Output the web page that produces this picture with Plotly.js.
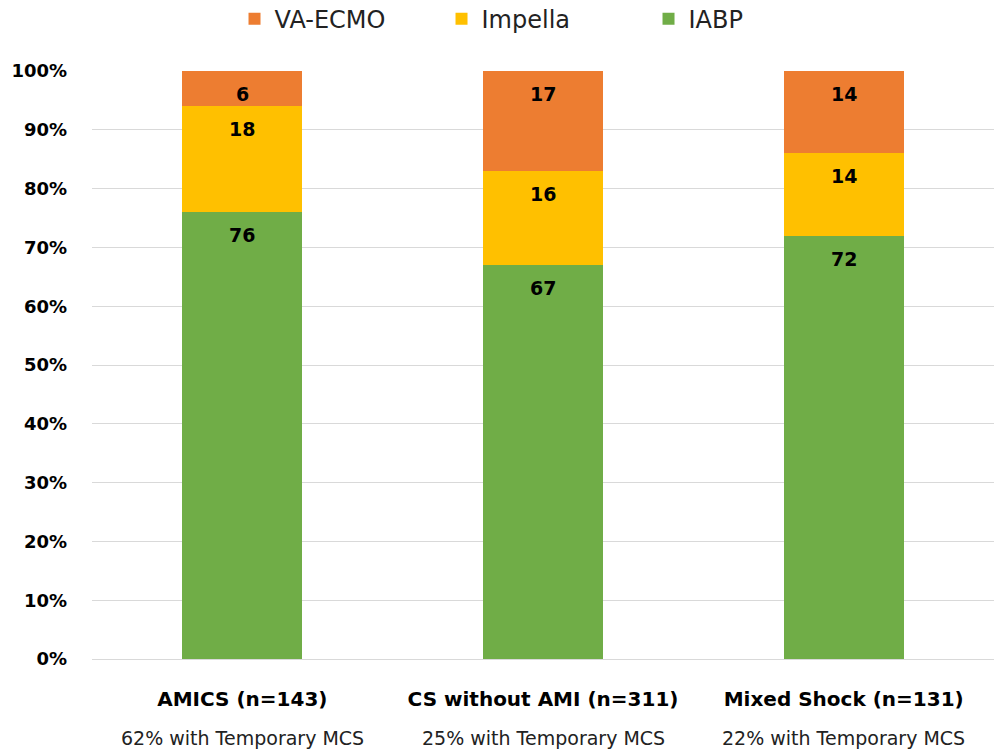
<!DOCTYPE html>
<html><head><meta charset="utf-8">
<script src="https://cdn.plot.ly/plotly-3.0.1.min.js"></script>
<style>body{margin:0;background:#fff}#chart{width:994px;height:754px}</style>
</head><body><div id="chart"></div>
<script>
const categories = ["AMICS (n=143)", "CS without AMI (n=311)", "Mixed Shock (n=131)"];
const subtitles = ["62% with Temporary MCS", "25% with Temporary MCS", "22% with Temporary MCS"];
const iabp = [76, 67, 72];
const impella = [18, 16, 14];
const vaecmo = [6, 17, 14];
const yTickVals = [0,10,20,30,40,50,60,70,80,90,100];
const yTickText = ["0%","10%","20%","30%","40%","50%","60%","70%","80%","90%","100%"];

const FONT = "DejaVu Sans, sans-serif";
const colors = {iabp:"#70AD47", impella:"#FFC000", vaecmo:"#ED7D31"};

const series = [
  {name:"IABP", vals:iabp, color:colors.iabp},
  {name:"Impella", vals:impella, color:colors.impella},
  {name:"VA-ECMO", vals:vaecmo, color:colors.vaecmo}
];

const traces = series.map(s => ({
  type:"bar", name:s.name, x:categories, y:s.vals,
  marker:{color:s.color, line:{width:0}}, width:0.4, hoverinfo:"none"
}));

const annotations = [];
const cum = categories.map(()=>0);
series.forEach(s => {
  s.vals.forEach((v,i) => {
    cum[i] += v;
    annotations.push({x:categories[i], y:cum[i], xref:"x", yref:"y", text:"<b>"+v+"</b>",
      showarrow:false, yshift:-23, yanchor:"middle", font:{family:FONT, size:19, color:"#000"}});
  });
});
subtitles.forEach((t,i) => {
  annotations.push({x:categories[i], y:-0.134, xref:"x", yref:"paper", text:t, showarrow:false,
    yanchor:"middle", font:{family:FONT, size:19, color:"#222"}});
});

const layout = {
  width:994, height:754, barmode:"stack",
  margin:{l:92, r:0, t:71, b:95, autoexpand:false},
  paper_bgcolor:"#fff", plot_bgcolor:"#fff",
  font:{family:FONT, color:"#000"},
  showlegend:true,
  legend:{orientation:"h", traceorder:"reversed", x:0.158, xanchor:"left", y:1.088, yanchor:"middle",
    font:{family:FONT, size:24, color:"#222"}, itemwidth:30, entrywidth:162, entrywidthmode:"pixels"},
  xaxis:{tickvals:categories, ticktext:categories.map(c=>"<b>"+c+"</b>"), tickfont:{family:FONT, size:20, color:"#000"},
    showgrid:false, showline:false, ticks:"", ticklen:0, ticklabelstandoff:26},
  yaxis:{range:[0,100], tickvals:yTickVals, ticktext:yTickText.map(t=>"<b>"+t+"</b>"),
    tickfont:{family:FONT, size:18, color:"#000"}, showgrid:true, gridcolor:"#d9d9d9", gridwidth:1,
    zeroline:true, zerolinecolor:"#d9d9d9", zerolinewidth:1, ticks:"", ticklabelstandoff:24},
  annotations:annotations
};
Plotly.newPlot("chart", traces, layout, {displayModeBar:false, staticPlot:true});
</script></body></html>
